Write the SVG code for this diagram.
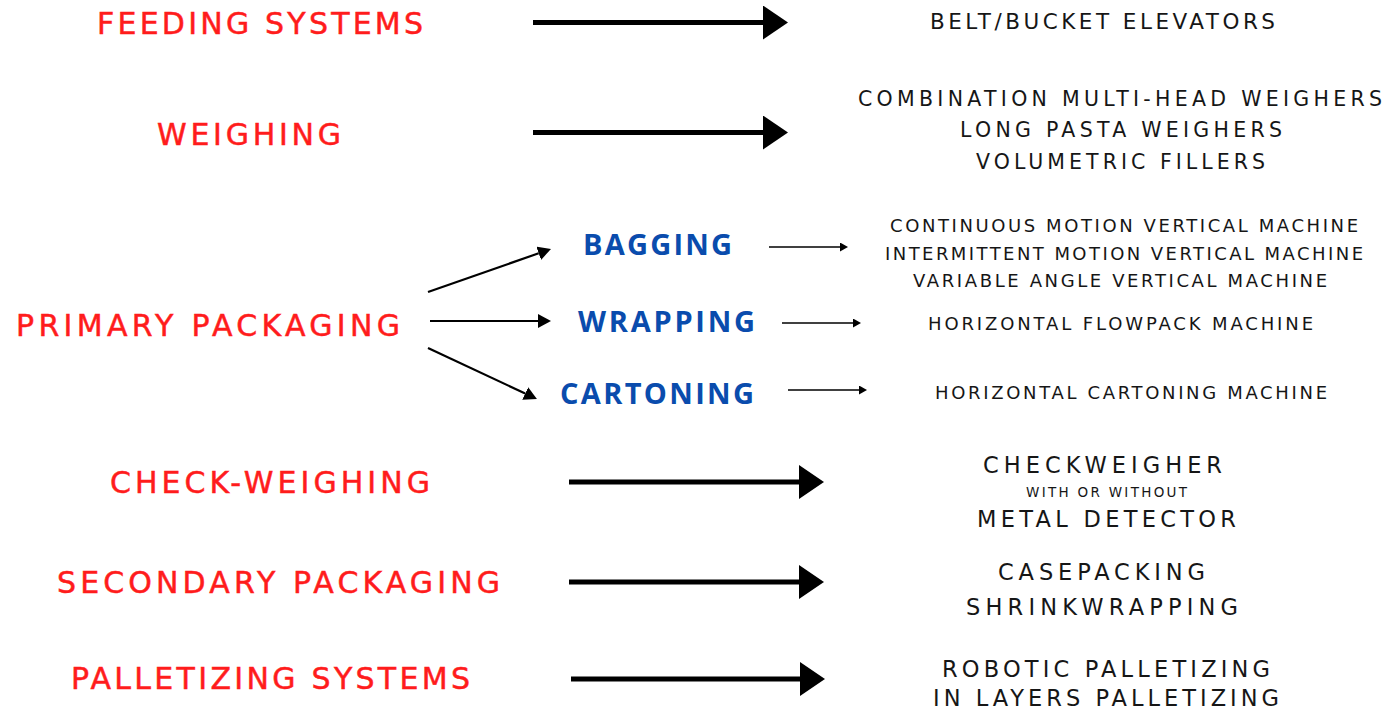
<svg xmlns="http://www.w3.org/2000/svg" width="1389" height="717" viewBox="0 0 1389 717">
<defs>
<style>
.red{font-family:"DejaVu Sans","Noto Sans","Liberation Sans",sans-serif;font-size:30px;fill:#ff1c1c;stroke:#ff1c1c;stroke-width:0.5px}
.blue{font-family:"Open Sans","Noto Sans","Liberation Sans",sans-serif;font-size:29px;fill:#0a4cad;font-weight:700}
.blk{font-family:"DejaVu Sans","Noto Sans","Liberation Sans",sans-serif;fill:#161616}
.big{stroke:#000;stroke-width:5;fill:none}
.mid{stroke:#000;stroke-width:2.2;fill:none}
.sm{stroke:#000;stroke-width:1.5;fill:none}
</style>
<marker id="hBig" markerUnits="userSpaceOnUse" markerWidth="25" markerHeight="34" viewBox="0 0 25 34" refX="0" refY="17" orient="auto"><path d="M0,0 L25,17 L0,34 z" fill="#000"/></marker>
<marker id="hMid" markerUnits="userSpaceOnUse" markerWidth="13" markerHeight="14" viewBox="0 0 13 14" refX="0" refY="7" orient="auto"><path d="M0,0 L13,7 L0,14 z" fill="#000"/></marker>
<marker id="hSm" markerUnits="userSpaceOnUse" markerWidth="8" markerHeight="9" viewBox="0 0 8 9" refX="0" refY="4.5" orient="auto"><path d="M0,0 L8,4.5 L0,9 z" fill="#000"/></marker>
</defs>
<rect width="1389" height="717" fill="#fff"/>
<g id="connectors">
<line class="big" x1="533" y1="22.5" x2="763" y2="22.5" marker-end="url(#hBig)"/>
<line class="big" x1="533" y1="132.5" x2="763" y2="132.5" marker-end="url(#hBig)"/>
<line class="mid" x1="428" y1="292" x2="538.7" y2="253.3" marker-end="url(#hMid)"/>
<line class="mid" x1="430" y1="321" x2="538" y2="321" marker-end="url(#hMid)"/>
<line class="mid" x1="428" y1="348" x2="525.2" y2="393.5" marker-end="url(#hMid)"/>
<line class="sm" x1="769" y1="247" x2="840" y2="247" marker-end="url(#hSm)"/>
<line class="sm" x1="782" y1="323" x2="853" y2="323" marker-end="url(#hSm)"/>
<line class="sm" x1="788" y1="390" x2="859" y2="390" marker-end="url(#hSm)"/>
<line class="big" x1="569" y1="482" x2="799" y2="482" marker-end="url(#hBig)"/>
<line class="big" x1="569" y1="582" x2="799" y2="582" marker-end="url(#hBig)"/>
<line class="big" x1="571" y1="679" x2="800" y2="679" marker-end="url(#hBig)"/>
</g>
<g id="feeding"><text class="red" x="97" y="34" textLength="326" lengthAdjust="spacing">FEEDING SYSTEMS</text></g>
<g id="weighing"><text class="red" x="157" y="145" textLength="184" lengthAdjust="spacing">WEIGHING</text></g>
<g id="primary"><text class="red" x="16" y="336" textLength="384" lengthAdjust="spacing">PRIMARY PACKAGING</text></g>
<g id="checkweighing"><text class="red" x="110" y="493" textLength="320" lengthAdjust="spacing">CHECK-WEIGHING</text></g>
<g id="secondary"><text class="red" x="57" y="593" textLength="443" lengthAdjust="spacing">SECONDARY PACKAGING</text></g>
<g id="palletizing"><text class="red" x="71" y="689" textLength="399" lengthAdjust="spacing">PALLETIZING SYSTEMS</text></g>
<g id="bagging"><text class="blue" x="583" y="255" textLength="149" lengthAdjust="spacing">BAGGING</text></g>
<g id="wrapping"><text class="blue" x="578" y="332" textLength="177" lengthAdjust="spacing">WRAPPING</text></g>
<g id="cartoning"><text class="blue" x="560" y="404" textLength="194" lengthAdjust="spacing">CARTONING</text></g>
<g id="feeding-out"><text class="blk" font-size="21.5" x="930" y="29" textLength="345" lengthAdjust="spacing">BELT/BUCKET ELEVATORS</text></g>
<g id="weighing-out">
<text class="blk" font-size="20.5" x="858" y="106" textLength="524" lengthAdjust="spacing">COMBINATION MULTI-HEAD WEIGHERS</text>
<text class="blk" font-size="20.5" x="960" y="137" textLength="322" lengthAdjust="spacing">LONG PASTA WEIGHERS</text>
<text class="blk" font-size="20.5" x="976" y="169" textLength="289" lengthAdjust="spacing">VOLUMETRIC FILLERS</text>
</g>
<g id="bagging-out">
<text class="blk" font-size="18" x="890" y="232" textLength="468" lengthAdjust="spacing">CONTINUOUS MOTION VERTICAL MACHINE</text>
<text class="blk" font-size="18" x="885" y="260" textLength="478" lengthAdjust="spacing">INTERMITTENT MOTION VERTICAL MACHINE</text>
<text class="blk" font-size="18" x="913" y="287" textLength="414" lengthAdjust="spacing">VARIABLE ANGLE VERTICAL MACHINE</text>
</g>
<g id="wrapping-out"><text class="blk" font-size="18" x="928" y="330" textLength="385" lengthAdjust="spacing">HORIZONTAL FLOWPACK MACHINE</text></g>
<g id="cartoning-out"><text class="blk" font-size="18" x="935" y="399" textLength="392" lengthAdjust="spacing">HORIZONTAL CARTONING MACHINE</text></g>
<g id="checkweighing-out">
<text class="blk" font-size="22.5" x="983" y="473" textLength="239" lengthAdjust="spacing">CHECKWEIGHER</text>
<text class="blk" font-size="13.5" x="1026" y="497" textLength="161" lengthAdjust="spacing">WITH OR WITHOUT</text>
<text class="blk" font-size="22.5" x="977" y="527" textLength="259" lengthAdjust="spacing">METAL DETECTOR</text>
</g>
<g id="secondary-out">
<text class="blk" font-size="22.5" x="998" y="580" textLength="207" lengthAdjust="spacing">CASEPACKING</text>
<text class="blk" font-size="22.5" x="966" y="615" textLength="272" lengthAdjust="spacing">SHRINKWRAPPING</text>
</g>
<g id="palletizing-out">
<text class="blk" font-size="22.5" x="942" y="677" textLength="328" lengthAdjust="spacing">ROBOTIC PALLETIZING</text>
<text class="blk" font-size="22.5" x="933" y="706" textLength="346" lengthAdjust="spacing">IN LAYERS PALLETIZING</text>
</g>
</svg>
